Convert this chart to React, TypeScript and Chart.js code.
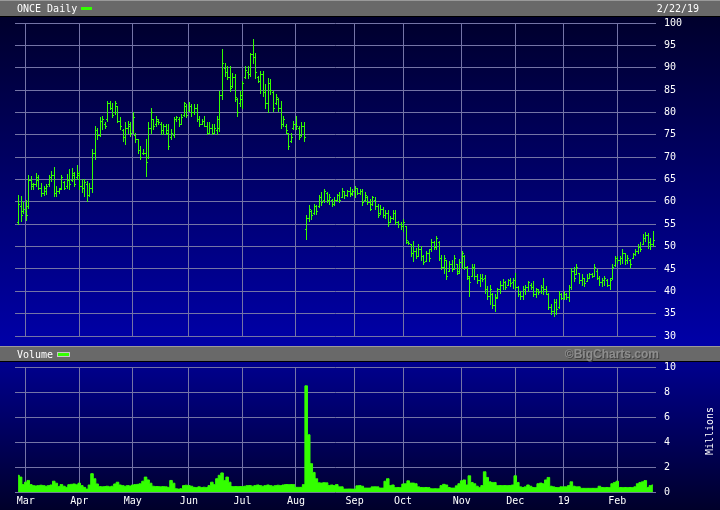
import React, { useEffect, useRef } from "react";
import { Chart, registerables } from "chart.js";
Chart.register(...registerables);

// ---- Data (trading-day index 0 = Feb 26 2018 ... 249 = Feb 22 2019) ----
const monthTickIndex = [3, 24, 45, 67, 88, 109, 132, 151, 174, 195, 214, 235];
const monthTickLabels = ["Mar", "Apr", "May", "Jun", "Jul", "Aug", "Sep", "Oct", "Nov", "Dec", "19", "Feb"];

const opens = [
  55.5, 59, 58, 58, 59, 65, 63.5, 64, 65, 63, 62, 62.5, 64, 65.5, 66, 62, 62.5, 63, 64.5, 63.5,
  65, 65, 66, 65.5, 66, 63.5, 63, 64, 61.5, 63, 71, 76, 75, 78, 77.5, 78.5, 82, 81, 80, 81.5,
  78, 76, 74.5, 76.5, 77, 76, 75, 74, 71.5, 71, 71, 70, 76.5, 78.5, 77.5, 78, 77.5, 76, 77, 76,
  74.5, 75, 78.5, 78.5, 77.5, 79.5, 81.5, 80.5, 81.5, 80, 81, 78.5, 77.5, 78, 77, 75.5, 76.5, 75.5, 76, 76.5,
  84, 90, 89, 88, 86, 88, 83, 82, 83, 88, 89, 88.5, 93, 92.5, 88, 87, 88.5, 84.5, 82, 86.5,
  84.5, 82, 83, 81, 77.5, 77, 75.5, 73.5, 76.5, 77.5, 76.5, 75, 77, 54, 56.5, 58, 57.5, 59, 59, 61,
  60.5, 62, 60.5, 60.5, 59.5, 60.5, 61.5, 61, 62.5, 61.5, 62.5, 62, 62.5, 63, 62, 62.5, 60.5, 61, 60, 59.5,
  60.5, 59, 57.5, 58.5, 57, 57.5, 55.5, 56.5, 57.5, 55.5, 55, 54.5, 54.5, 51, 50.5, 48.5, 49, 48, 49.5, 48,
  46.8, 48.5, 49.5, 51, 50, 51, 47.5, 45.5, 47, 44.5, 46, 45, 46, 44.5, 46.5, 48, 45.5, 43, 43.5, 45.5,
  43.5, 42.5, 43, 43, 40.5, 39, 39.5, 37, 38.8, 40.5, 41.5, 42, 41.5, 42.5, 42, 42.5, 41, 39.5, 39, 40.5,
  41, 41.5, 41, 39.5, 40, 40, 41, 40.5, 39.5, 36.5, 35.5, 37.5, 36.5, 39.5, 38.5, 39.5, 38.8, 41, 44.5, 43.8,
  44, 42.5, 43, 42.3, 43, 43.8, 43.5, 44.5, 43, 42, 42.5, 42.5, 41.5, 43, 45.8, 47.5, 47, 47.5, 48.5, 47,
  47, 47.5, 48.3, 49, 50, 50.5, 52, 52.5, 51, 50.5,
];
const highs = [
  61.5, 61.4, 59.9, 60.4, 66, 65.7, 64.3, 66.4, 66, 64.3, 63.6, 64, 66, 67, 67.9, 63.6, 63.2, 66, 64.7, 66.2,
  67.3, 67.5, 66.6, 68.2, 67, 65.1, 65.1, 64.7, 64.3, 71.8, 77, 76.6, 78.9, 79.1, 77.8, 82.6, 82.6, 82.2, 82.6, 81.5,
  78.9, 76.3, 77.8, 78.1, 77.8, 80, 75.5, 74, 72.5, 71.8, 74, 77.8, 81, 78.5, 79.1, 78.5, 77.8, 77.4, 77.4, 77.4,
  76.3, 78.9, 79.3, 78.9, 79.6, 82.4, 81.9, 82.4, 81.9, 81.9, 81.9, 79.3, 78.5, 79.3, 77.8, 77.8, 77.4, 77.4, 79.3, 84.8,
  94.1, 91.1, 90.4, 90.4, 88.9, 88.5, 83.3, 84.8, 87, 90.4, 90.4, 93.4, 96.5, 93.4, 88.2, 89.3, 89.3, 86.3, 87.8, 87.4,
  84.8, 84.1, 83.3, 82.6, 79.2, 77.4, 75.5, 75.5, 78.1, 79.1, 77, 77.8, 77.8, 57, 59.3, 58.1, 59.6, 59.2, 61.6, 62.3,
  62.8, 62.2, 61.8, 60.7, 61, 61.8, 62.2, 63, 62.5, 62.7, 63.3, 62.9, 63.6, 63, 62.9, 62.8, 62.2, 61.4, 60.7, 61.4,
  61, 59.6, 59.2, 58.8, 58.1, 58.1, 56.8, 58.1, 58.1, 55.8, 55.6, 56.2, 54.7, 51.2, 50.5, 51.2, 49.7, 50.5, 50.1, 48.2,
  49, 49.4, 51.6, 51.2, 52.3, 51.2, 48.2, 48.2, 47.1, 46.8, 47.1, 48.2, 46, 47.3, 49.1, 48.2, 45.6, 43.4, 46, 46,
  43.9, 43.8, 43.8, 43.6, 41.2, 41.5, 39.7, 39.3, 40.8, 42.3, 42.7, 42.3, 42.7, 43, 43, 44, 41.2, 40, 41.2, 41.5,
  42.3, 41.9, 42.3, 40.8, 40.4, 41.3, 43, 41.2, 39.7, 37.1, 38.2, 38.2, 40, 39.7, 40, 39.7, 41.5, 45.3, 45.5, 46,
  44.2, 43.8, 43, 43.8, 44.2, 44.2, 46, 44.9, 43.4, 43, 43.4, 42.7, 43, 46, 47.9, 47.9, 48, 49.5, 48.5, 48.2,
  47.3, 48.6, 49.4, 50.5, 51, 52.7, 53.2, 53, 52, 53.5,
];
const lows = [
  55, 55.8, 57.6, 56, 58.7, 62.8, 62.8, 63.6, 62.8, 61.4, 61.5, 61.8, 63.6, 64.7, 61.4, 61.2, 62, 62.8, 62.8, 63.2,
  62.8, 64.7, 63.6, 65.1, 62.8, 62.1, 61.4, 60.2, 61.4, 62.1, 69.6, 74, 74.8, 76.3, 76.6, 78.1, 80.7, 78.9, 79.6, 77.8,
  76.3, 73.7, 72.9, 75.5, 74.8, 75.5, 73.3, 71, 69.6, 70.7, 65.8, 69.9, 75.5, 76.3, 77, 77.4, 75.2, 75.2, 75.2, 71.8,
  74, 74.4, 78.1, 77, 77.4, 79.3, 78.9, 80.4, 79.3, 79.6, 78.1, 77, 77.4, 77, 75.2, 75.5, 75.2, 75.5, 75.2, 75.9,
  83, 88.2, 87.4, 84.8, 85.6, 82.6, 79.2, 81.5, 81.1, 87.8, 87.8, 88.2, 91.1, 87.8, 86.7, 84.4, 83.7, 81.1, 80, 84.1,
  80.4, 81.8, 80.4, 76.6, 77, 75.5, 71.8, 73.3, 76.3, 76.3, 74, 74.8, 73.7, 51.6, 55.8, 56.2, 57.3, 57.3, 58.8, 59.2,
  59.9, 59.9, 59.6, 59, 59.2, 60.3, 59.9, 61, 60.8, 61.4, 61.4, 61.5, 61, 61.8, 61.8, 59.2, 60.3, 59.6, 58.1, 59.2,
  58.4, 56.6, 57.3, 56.6, 56.4, 54.6, 55.5, 56.2, 55.1, 54.4, 54, 53.5, 50.8, 50.5, 47.9, 46.8, 47.5, 47.9, 47.1, 46,
  46.8, 46.8, 49, 49.4, 49.4, 47.1, 45, 44.2, 42.7, 44.5, 44.5, 44.9, 43.8, 44.2, 45.3, 44.9, 42.7, 39, 43.4, 42.7,
  41.9, 41.2, 42.3, 39.7, 38.2, 37.1, 36.3, 35.6, 38.6, 39.7, 40.4, 40.4, 41.5, 41.2, 40.8, 40.4, 38.9, 38.2, 38.2, 39.3,
  40, 40.4, 38.9, 38.8, 39.3, 39.7, 39.3, 39.3, 36, 34.9, 34.5, 34.9, 36.3, 38.2, 38.2, 38.2, 37.8, 40.4, 42.3, 43.8,
  41.9, 41.5, 41.2, 42.3, 43, 43.3, 43.4, 42.7, 41.5, 41.2, 41.5, 41.2, 40.6, 42.8, 45.6, 46.4, 46, 46.4, 46, 46.4,
  45.5, 47.5, 48.2, 48.6, 49, 50.5, 51.2, 49.7, 49.4, 50.1,
];
const closes = [
  59.5, 57, 58.5, 57, 65, 64, 64, 65.5, 63, 62, 63, 63.5, 65.5, 66, 62, 62.5, 62.8, 65.5, 63, 65,
  64, 66.5, 64, 66.5, 63.5, 63, 64.5, 61.5, 63, 71, 76, 75, 78, 78.5, 77, 82, 81, 79.5, 82, 78,
  77, 74.5, 76.5, 77.5, 75.5, 79, 74, 71.5, 70, 71, 69, 76.5, 80, 77, 78.5, 77.8, 76, 77, 75.5, 72.5,
  75.5, 78.5, 79, 77.5, 79, 82, 79.5, 81.5, 80, 81, 78.5, 77.5, 78, 77, 75.5, 76.5, 75.5, 76.5, 78.5, 84,
  91, 89, 88, 85.5, 88, 83.5, 80, 84, 86.5, 89.5, 88.5, 93, 92.5, 89, 87, 88.5, 84.5, 82, 86.5, 85,
  81, 83.5, 81, 77.5, 78.5, 76, 72.5, 74.5, 77.5, 77, 74.5, 77, 74.5, 56.5, 58.5, 57, 59, 58, 61, 60,
  62.5, 60.5, 61, 59.5, 60.5, 61.5, 60.5, 62.5, 61.5, 62.5, 61.8, 62.5, 63, 62, 62.5, 60, 61.5, 60, 58.5, 61,
  59, 57, 58.5, 57, 57.5, 55, 56.5, 57.5, 55.5, 55, 54.5, 55.5, 51.5, 50.8, 48.5, 49, 48, 49.5, 48, 46.5,
  48.5, 47.5, 51, 50, 52, 47.5, 45.5, 47.5, 43.5, 46, 45, 47.5, 44, 46.5, 48.5, 45.5, 43.5, 42, 45.5, 43.5,
  42.5, 43, 42.8, 40.5, 39, 40.5, 37, 38.5, 40.5, 41.5, 42, 41, 42.5, 41.8, 42.5, 41, 39.5, 39, 40.5, 41,
  42, 41, 39.5, 40.5, 39.8, 41, 40.5, 40, 36.5, 35.5, 37.5, 36, 39.5, 38.5, 39.5, 38.8, 41, 44.5, 43, 45.5,
  42.5, 43, 41.8, 43, 43.8, 43.5, 45.5, 43, 42, 42.5, 43, 41.5, 42.5, 45.5, 47.5, 47, 47.5, 48.5, 47, 47.5,
  46, 48.3, 49, 50, 49.5, 52, 52.5, 51, 50.5, 51.5,
];
const volumes = [
  1.37, 1.23, 0.63, 0.82, 0.96, 0.63, 0.55, 0.52, 0.55, 0.58, 0.55, 0.5, 0.55, 0.6, 0.9, 0.74, 0.47, 0.63, 0.5, 0.41,
  0.62, 0.65, 0.68, 0.62, 0.74, 0.55, 0.41, 0.27, 0.6, 1.5, 1.1, 0.68, 0.47, 0.45, 0.47, 0.5, 0.45, 0.5, 0.68, 0.82,
  0.6, 0.55, 0.5, 0.55, 0.52, 0.6, 0.63, 0.65, 0.7, 0.9, 1.23, 1.0, 0.74, 0.5, 0.47, 0.47, 0.45, 0.47, 0.45, 0.41,
  0.96, 0.74, 0.3, 0.27, 0.3, 0.55, 0.58, 0.55, 0.5, 0.41, 0.4, 0.45, 0.4, 0.42, 0.4, 0.55, 0.82, 0.63, 1.1, 1.37,
  1.56, 0.96, 1.23, 0.82, 0.47, 0.47, 0.47, 0.47, 0.47, 0.5, 0.55, 0.55, 0.5, 0.55, 0.6, 0.55, 0.5, 0.55, 0.6, 0.55,
  0.5, 0.55, 0.58, 0.55, 0.6, 0.63, 0.63, 0.63, 0.63, 0.41, 0.41, 0.41, 0.63, 8.5, 4.6, 2.3, 1.6, 1.1, 0.77, 0.75,
  0.78, 0.77, 0.55, 0.6, 0.55, 0.63, 0.45, 0.45, 0.27, 0.27, 0.28, 0.27, 0.27, 0.53, 0.55, 0.5, 0.35, 0.35, 0.35, 0.45,
  0.45, 0.45, 0.35, 0.35, 0.9, 1.1, 0.55, 0.6, 0.4, 0.4, 0.4, 0.67, 0.7, 0.93, 0.75, 0.75, 0.7, 0.45, 0.4, 0.4,
  0.4, 0.4, 0.3, 0.3, 0.3, 0.3, 0.55, 0.65, 0.6, 0.4, 0.35, 0.35, 0.53, 0.7, 0.93, 1.0, 0.6, 1.33, 0.8, 0.7,
  0.5, 0.4, 0.55, 1.65, 1.2, 0.85, 0.8, 0.8, 0.55, 0.55, 0.55, 0.55, 0.55, 0.55, 0.6, 1.33, 0.8, 0.45, 0.4, 0.45,
  0.6, 0.5, 0.4, 0.4, 0.7, 0.75, 0.7, 1.0, 1.2, 0.5, 0.45, 0.4, 0.4, 0.45, 0.45, 0.45, 0.55, 0.85, 0.5, 0.45,
  0.45, 0.33, 0.33, 0.33, 0.33, 0.33, 0.33, 0.33, 0.5, 0.4, 0.4, 0.4, 0.4, 0.7, 0.8, 0.9, 0.4, 0.4, 0.4, 0.4,
  0.4, 0.4, 0.45, 0.7, 0.8, 0.85, 0.95, 0.4, 0.55, 0.6,
];

// ---- Style ----
const GREEN = "#33ff00";
const GRID = "#7474a6";
const MONO = '"DejaVu Sans Mono", monospace';
const X_MIN = -1.2;
const X_MAX = 250.2;

function monthTicks(scale: any) {
  scale.ticks = monthTickIndex.map((v) => ({ value: v }));
}

const priceBg = {
  id: "priceBg",
  beforeDraw(chart: any) {
    const { ctx, width, height } = chart;
    ctx.save();
    const g = ctx.createLinearGradient(0, 17, 0, height);
    g.addColorStop(0, "#00002c");
    g.addColorStop(1, "#0000a8");
    ctx.fillStyle = g;
    ctx.fillRect(0, 17, width, height - 17);
    ctx.fillStyle = "#9a9a9a";
    ctx.fillRect(0, 0, width, 1);
    ctx.fillStyle = "#696969";
    ctx.fillRect(0, 1, width, 15);
    ctx.fillStyle = "#000";
    ctx.fillRect(0, 16, width, 1);
    ctx.font = `10px ${MONO}`;
    ctx.fillStyle = "#fff";
    ctx.textBaseline = "alphabetic";
    ctx.textAlign = "left";
    ctx.fillText("ONCE Daily", 17, 12);
    ctx.textAlign = "right";
    ctx.fillText("2/22/19", 699, 12);
    ctx.fillStyle = GREEN;
    ctx.fillRect(81, 7, 11, 3);
    ctx.restore();
  },
};

const ohlcPlugin = {
  id: "ohlc",
  afterDatasetsDraw(chart: any) {
    const { ctx } = chart;
    const x = chart.scales.x;
    const y = chart.scales.y;
    ctx.save();
    ctx.fillStyle = GREEN;
    for (let i = 0; i < closes.length; i++) {
      const px = Math.round(x.getPixelForValue(i));
      const yh = Math.round(y.getPixelForValue(highs[i]));
      const yl = Math.round(y.getPixelForValue(lows[i]));
      ctx.fillRect(px, yh, 1, Math.max(1, yl - yh + 1));
      const yo = Math.round(y.getPixelForValue(opens[i]));
      ctx.fillRect(px - 1, yo, 1, 1);
      const yc = Math.round(y.getPixelForValue(closes[i]));
      ctx.fillRect(px + 1, yc, 1, 1);
    }
    ctx.restore();
  },
};

const volBg = {
  id: "volBg",
  beforeDraw(chart: any) {
    const { ctx, width, height } = chart;
    ctx.save();
    const g = ctx.createLinearGradient(0, 16, 0, height);
    g.addColorStop(0, "#00008e");
    g.addColorStop(1, "#00002a");
    ctx.fillStyle = g;
    ctx.fillRect(0, 16, width, height - 16);
    ctx.fillStyle = "#9a9a9a";
    ctx.fillRect(0, 0, width, 1);
    ctx.fillStyle = "#696969";
    ctx.fillRect(0, 1, width, 14);
    ctx.fillStyle = "#000";
    ctx.fillRect(0, 15, width, 1);
    ctx.font = `10px ${MONO}`;
    ctx.fillStyle = "#fff";
    ctx.textAlign = "left";
    ctx.textBaseline = "alphabetic";
    ctx.fillText("Volume", 17, 12);
    ctx.fillStyle = GREEN;
    ctx.fillRect(58, 7, 11, 3);
    ctx.strokeStyle = "#c8c8c8";
    ctx.lineWidth = 1;
    ctx.strokeRect(57.5, 6.5, 12, 4);
    ctx.font = `bold 12px "Liberation Sans", Arial, sans-serif`;
    ctx.textAlign = "right";
    ctx.fillStyle = "#404040";
    ctx.fillText("\u00a9BigCharts.com", 660, 13);
    ctx.fillStyle = "#8e8e8e";
    ctx.fillText("\u00a9BigCharts.com", 659, 12);
    ctx.restore();
  },
  afterDraw(chart: any) {
    const { ctx } = chart;
    ctx.save();
    ctx.translate(710, 85);
    ctx.rotate(-Math.PI / 2);
    ctx.font = `10px ${MONO}`;
    ctx.fillStyle = "#fff";
    ctx.textAlign = "center";
    ctx.textBaseline = "middle";
    ctx.fillText("Millions", 0, 0);
    ctx.restore();
  },
};

export default function App() {
  const priceRef = useRef<HTMLCanvasElement | null>(null);
  const volRef = useRef<HTMLCanvasElement | null>(null);

  useEffect(() => {
    const tickFont = { family: MONO, size: 10 };
    const yGrid = { color: GRID, drawTicks: true, tickLength: 8, tickColor: "rgba(0,0,0,0)" };
    const price = new Chart(priceRef.current as HTMLCanvasElement, {
      type: "line",
      data: {
        datasets: [
          {
            data: closes.map((c, i) => ({ x: i, y: c })),
            showLine: false,
            pointRadius: 0,
            borderColor: "rgba(0,0,0,0)",
          },
        ],
      },
      options: {
        animation: false,
        responsive: false,
        events: [],
        layout: { padding: { left: 15, top: 23, right: 0, bottom: 10 } },
        plugins: { legend: { display: false }, tooltip: { enabled: false } },
        scales: {
          x: {
            type: "linear",
            min: X_MIN,
            max: X_MAX,
            afterBuildTicks: monthTicks,
            ticks: { display: false },
            grid: { color: GRID, drawTicks: false },
            border: { display: false },
            afterFit: (s: any) => {
              s.height = 0;
            },
          },
          y: {
            position: "right",
            min: 30,
            max: 100,
            ticks: { stepSize: 5, color: "#fff", font: tickFont, padding: 0 },
            grid: yGrid,
            border: { display: false },
            afterFit: (s: any) => {
              s.width = 64;
            },
          },
        },
      } as any,
      plugins: [priceBg, ohlcPlugin],
    });

    const vol = new Chart(volRef.current as HTMLCanvasElement, {
      type: "line",
      data: {
        datasets: [
          {
            data: volumes.map((v, i) => ({ x: i, y: v })),
            stepped: "middle",
            fill: "origin",
            backgroundColor: GREEN,
            borderColor: GREEN,
            borderWidth: 1,
            pointRadius: 0,
          },
        ],
      },
      options: {
        animation: false,
        responsive: false,
        events: [],
        layout: { padding: { left: 15, top: 21, right: 0, bottom: 0 } },
        plugins: { legend: { display: false }, tooltip: { enabled: false } },
        scales: {
          x: {
            type: "linear",
            min: X_MIN,
            max: X_MAX,
            afterBuildTicks: monthTicks,
            ticks: {
              color: "#fff",
              font: tickFont,
              padding: 3,
              autoSkip: false,
              maxRotation: 0,
              callback: (v: any) => {
                const k = monthTickIndex.indexOf(Number(v));
                return k >= 0 ? monthTickLabels[k] : "";
              },
            },
            grid: { color: GRID, drawTicks: false },
            border: { display: false },
            afterFit: (s: any) => {
              s.height = 17.5;
            },
          },
          y: {
            position: "right",
            min: 0,
            max: 10,
            ticks: { stepSize: 2, color: "#fff", font: tickFont, padding: 0 },
            grid: yGrid,
            border: { display: false },
            afterFit: (s: any) => {
              s.width = 64;
            },
          },
        },
      } as any,
      plugins: [volBg],
    });

    return () => {
      price.destroy();
      vol.destroy();
    };
  }, []);

  return (
    <div style={{ position: "absolute", left: 0, top: 0, width: 720, height: 510, background: "#000" }}>
      <canvas ref={priceRef} width={720} height={346} style={{ position: "absolute", left: 0, top: 0, width: 720, height: 346 }} />
      <canvas ref={volRef} width={720} height={164} style={{ position: "absolute", left: 0, top: 346, width: 720, height: 164 }} />
    </div>
  );
}
